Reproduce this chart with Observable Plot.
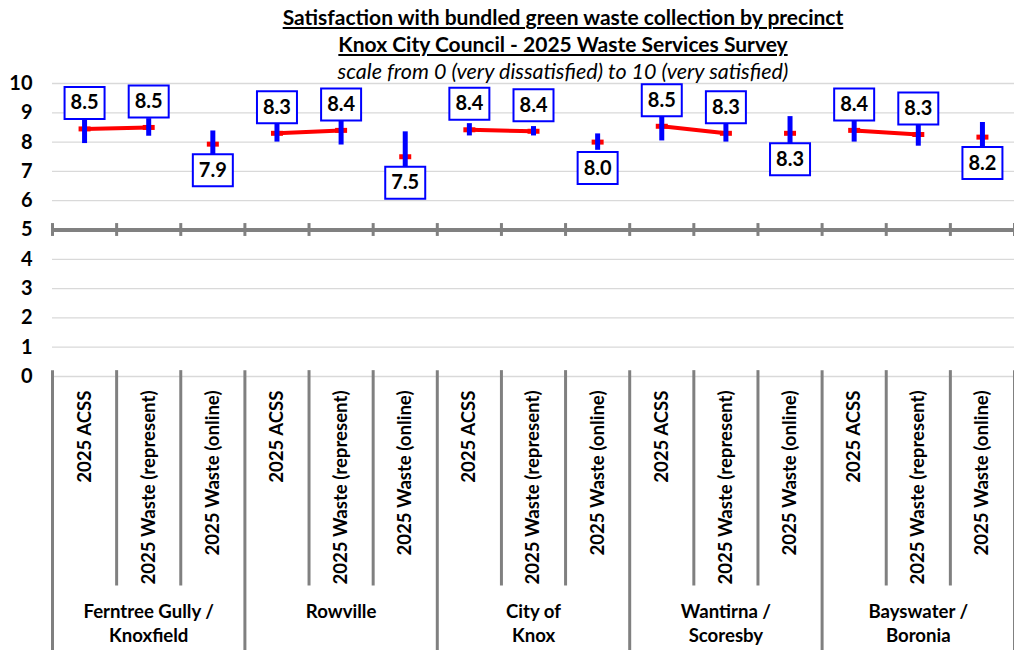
<!DOCTYPE html>
<html><head><meta charset="utf-8">
<script src="https://cdn.jsdelivr.net/npm/d3@7"></script>
<script src="https://cdn.jsdelivr.net/npm/@observablehq/plot@0.6"></script>
<style>
body{margin:0;background:#fff;font-family:Lato,"Open Sans",sans-serif;color:#000}
#wrap{position:relative;width:1014px;height:650px;overflow:hidden}
.h{position:absolute;left:112px;right:0;text-align:center;line-height:26px;white-space:nowrap}
.t{font-weight:bold;font-size:21px;text-decoration:underline}
.s{font-style:italic;font-size:21.5px}
#chart{position:absolute;left:0;top:0}
</style></head>
<body><div id="wrap">
<div id="chart"></div>
<div class="h t" style="top:4px">Satisfaction with bundled green waste collection by precinct</div>
<div class="h t" style="top:31px">Knox City Council - 2025 Waste Services Survey</div>
<div class="h s" style="top:58px">scale from 0 (very dissatisfied) to 10 (very satisfied)</div>
</div>
<script>
const groups = ["Ferntree Gully /\nKnoxfield", "Rowville", "City of\nKnox", "Wantirna /\nScoresby", "Bayswater /\nBoronia"];
const series = ["2025 ACSS", "2025 Waste (represent)", "2025 Waste (online)"];
const means = [
  [8.45, 8.50, 7.93],
  [8.30, 8.40, 7.50],
  [8.42, 8.37, 8.00],
  [8.54, 8.30, 8.30],
  [8.40, 8.26, 8.17]
];
const margins = [
  [0.50, 0.30, 0.45],
  [0.30, 0.50, 0.85],
  [0.21, 0.16, 0.28],
  [0.50, 0.30, 0.57],
  [0.40, 0.40, 0.50]
];
const labels = [
  ["8.5", "8.5", "7.9"],
  ["8.3", "8.4", "7.5"],
  ["8.4", "8.4", "8.0"],
  ["8.5", "8.3", "8.3"],
  ["8.4", "8.3", "8.2"]
];
const labelBelow = [false, false, true];
const yTicks = [0,1,2,3,4,5,6,7,8,9,10];
const gridValues = [0,1,2,3,4,6,7,8,9,10];
const refLine = [5];

const rows = [];
groups.forEach((g, gi) => series.forEach((s, si) => rows.push({
  i: gi * series.length + si, g: gi, s: si, group: g, series: s,
  mean: means[gi][si], lo: means[gi][si] - margins[gi][si], hi: means[gi][si] + margins[gi][si],
  label: labels[gi][si], below: labelBelow[si]
})));
const n = rows.length;
const bounds = d3.range(n + 1).map(k => ({x: k - 0.5, major: k % series.length === 0}));

const dash = {draw(ctx){ ctx.rect(-6, -2.5, 12, 5); }};
const box = {draw(ctx){ ctx.rect(-20, -16, 40, 32); }};

const chart = Plot.plot({
  width: 1014, height: 650,
  marginTop: 83, marginBottom: 274, marginLeft: 52, marginRight: 0,
  style: {fontFamily: "Lato, 'Open Sans', sans-serif", color: "#000", background: "transparent"},
  x: {type: "linear", domain: [-0.5, n - 0.5], axis: null},
  y: {domain: [0, 10], axis: null},
  marks: [
    Plot.ruleY(gridValues, {stroke: "#d9d9d9", strokeWidth: 1.3}),
    Plot.ruleY(refLine, {stroke: "#808080", strokeWidth: 4}),
    Plot.ruleX(bounds, {x: "x", y1: 4.78, y2: 5.22, stroke: "#808080", strokeWidth: 3}),
    Plot.ruleX(bounds, {x: "x", y1: 0.2, y2: d => d.major ? -9.6 : -7.15, stroke: "#808080", strokeWidth: 3}),
    Plot.axisY({ticks: yTicks, tickSize: 0, tickPadding: 20, fontSize: 20, fontWeight: "bold", tickFormat: d => d}),
    Plot.line(rows.filter(d => !d.below), {x: "i", y: "mean", z: "g", stroke: "#ff0000", strokeWidth: 4}),
    Plot.dot(rows, {x: "i", y: "mean", symbol: dash, fill: "#ff0000", stroke: null}),
    Plot.ruleX(rows, {x: "i", y1: "lo", y2: "hi", stroke: "#0000ff", strokeWidth: 5}),
    Plot.dot(rows.filter(d => !d.below), {x: "i", y: "mean", dy: -26, symbol: box, fill: "#fff", stroke: "#0000ff", strokeWidth: 2}),
    Plot.dot(rows.filter(d => d.below), {x: "i", y: "mean", dy: 26, symbol: box, fill: "#fff", stroke: "#0000ff", strokeWidth: 2}),
    Plot.text(rows.filter(d => !d.below), {x: "i", y: "mean", dy: -26, text: "label", fontSize: 20, fontWeight: "bold", fill: "#000"}),
    Plot.text(rows.filter(d => d.below), {x: "i", y: "mean", dy: 26, text: "label", fontSize: 20, fontWeight: "bold", fill: "#000"}),
    Plot.text(rows, {x: "i", text: "series", frameAnchor: "bottom", dy: 14, rotate: -90, textAnchor: "end", lineAnchor: "middle", fontSize: 18.6, fontWeight: "bold", fill: "#000"}),
    Plot.text(rows.filter(d => d.s === 1), {x: "i", text: "group", frameAnchor: "bottom", dy: 224, lineAnchor: "top", lineHeight: 1.3, fontSize: 18.6, fontWeight: "bold", fill: "#000"})
  ]
});
document.getElementById("chart").appendChild(chart);
</script>
</body></html>
